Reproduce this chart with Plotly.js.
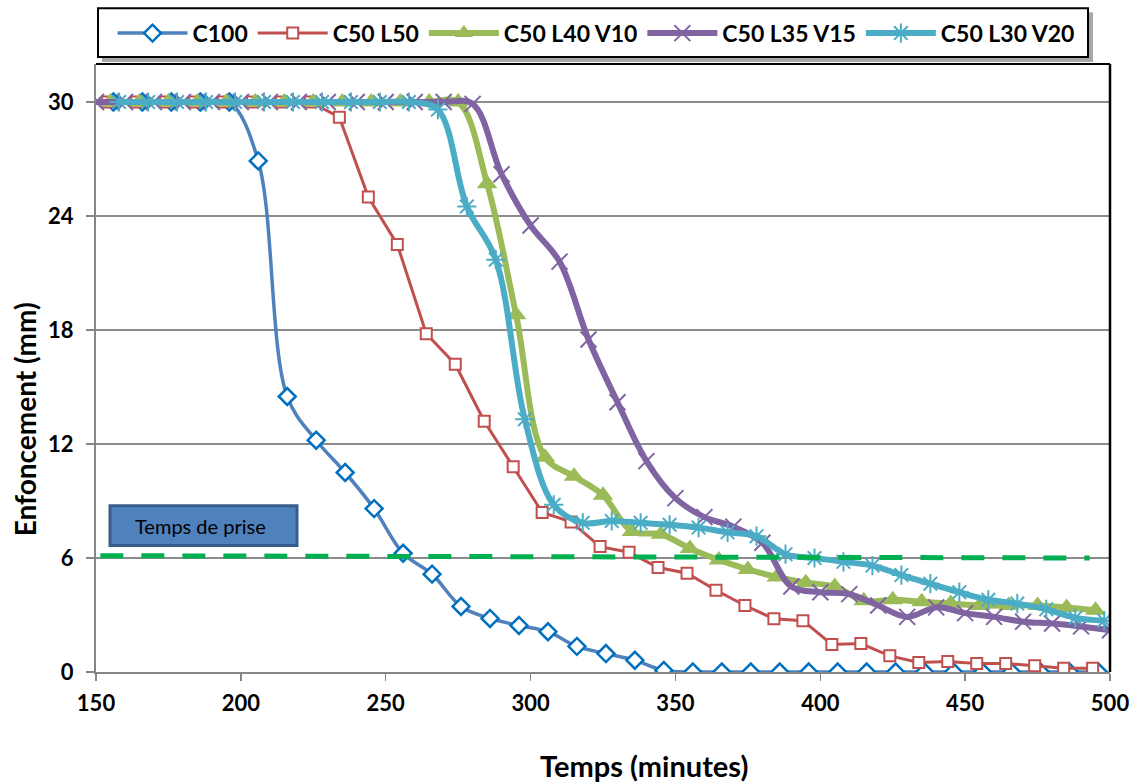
<!DOCTYPE html>
<html>
<head>
<meta charset="utf-8">
<script src="https://cdn.plot.ly/plotly-3.0.1.min.js"></script>
<style>html,body{margin:0;padding:0;background:#fff;}#chart{width:1136px;height:783px;}</style>
</head>
<body>
<div id="chart"></div>
<script>
// ---- data ----
const seriesNames = ["C100", "C50 L50", "C50 L40 V10", "C50 L35 V15", "C50 L30 V20"];

const timeC100 = [156,166,176,186,196,206,216,226,236,246,256,266,276,286,296,306,316,326,336,346,356,366,376,386,396,406,416,426,436,446,456,466,476,486,496];
const enfC100  = [30,30,30,30,30,26.9,14.5,12.2,10.5,8.6,6.25,5.15,3.45,2.82,2.45,2.12,1.35,0.97,0.62,0.08,0,0,0,0,0,0,0,0,0,0,0,0,0,0,0];

const timeL50 = [154,164,174,184,194,204,214,224,234,244,254,264,274,284,294,304,314,324,334,344,354,364,374,384,394,404,414,424,434,444,454,464,474,484,494];
const enfL50  = [30,30,30,30,30,30,30,30,29.2,25.0,22.5,17.8,16.2,13.2,10.8,8.4,7.9,6.6,6.3,5.5,5.2,4.3,3.5,2.8,2.7,1.45,1.5,0.85,0.5,0.55,0.45,0.45,0.33,0.2,0.2];

const timeV10 = [155,165,175,185,195,205,215,225,235,245,255,265,275,285,295,305,315,325,335,345,355,365,375,385,395,405,415,425,435,445,455,465,475,485,495];
const enfV10  = [30,30,30,30,30,30,30,30,30,30,30,30,30,25.7,18.8,11.3,10.3,9.3,7.4,7.25,6.5,5.9,5.4,5.0,4.7,4.5,3.75,3.8,3.7,3.6,3.5,3.5,3.5,3.4,3.25];

const timeV15 = [150,160,170,180,190,200,210,220,230,240,250,260,270,280,290,300,310,320,330,340,350,360,370,380,390,400,410,420,430,440,450,460,470,480,490,500];
const enfV15  = [30,30,30,30,30,30,30,30,30,30,30,30,30,29.9,26.2,23.5,21.6,17.5,14.2,11.1,9.15,8.15,7.65,6.8,4.5,4.2,4.1,3.5,2.9,3.4,3.1,2.9,2.65,2.55,2.4,2.2];

const timeV20 = [158,168,178,188,198,208,218,228,238,248,258,268,278,288,298,308,318,328,338,348,358,368,378,388,398,408,418,428,438,448,458,468,478,488,498];
const enfV20  = [30,30,30,30,30,30,30,30,30,30,30,29.6,24.5,21.7,13.3,8.8,7.85,7.95,7.85,7.75,7.6,7.35,7.15,6.2,6.0,5.8,5.6,5.1,4.65,4.2,3.8,3.6,3.3,2.85,2.7];

const settingLevel = [6.12, 6.0];      // "Temps de prise" reference line (mm)
const settingSpan  = [151.5, 493];     // its extent (minutes)
const xTicks = [150,200,250,300,350,400,450,500];
const yTicks = [0,6,12,18,24,30];

// ---- styles ----
const FONT = 'Lato, "Noto Sans", sans-serif';
const traces = [
  {x: timeC100, y: enfC100, name: seriesNames[0], type: 'scatter', mode: 'lines+markers',
   line: {color: '#4F81BD', width: 3.5, shape: 'spline', smoothing: 1},
   marker: {symbol: 'diamond', size: 13, color: '#ffffff', line: {color: '#0070C0', width: 2.5}}},
  {x: timeL50, y: enfL50, name: seriesNames[1], type: 'scatter', mode: 'lines+markers',
   line: {color: '#C0504D', width: 3},
   marker: {symbol: 'square', size: 11, color: '#ffffff', line: {color: '#C0504D', width: 2}}},
  {x: timeV10, y: enfV10, name: seriesNames[2], type: 'scatter', mode: 'lines+markers',
   line: {color: '#9BBB59', width: 6, shape: 'spline', smoothing: 1},
   marker: {symbol: 'triangle-up', size: 18, color: '#9BBB59'}},
  {x: timeV15, y: enfV15, name: seriesNames[3], type: 'scatter', mode: 'lines+markers',
   line: {color: '#8064A2', width: 6, shape: 'spline', smoothing: 1},
   marker: {symbol: 'x-thin-open', size: 16, color: '#8064A2', line: {color: '#8064A2', width: 2}}},
  {x: timeV20, y: enfV20, name: seriesNames[4], type: 'scatter', mode: 'lines+markers',
   line: {color: '#4BACC6', width: 6, shape: 'spline', smoothing: 1},
   marker: {symbol: 'asterisk-open', size: 16, color: '#4BACC6', line: {color: '#4BACC6', width: 2}}}
];

const W = 1136, H = 783, L = 96, R = 26, T = 61, B = 111;
const pw = W - L - R, ph = H - T - B;
const px2x = p => (p - L) / pw;       // pixel -> paper fraction
const py2y = p => (H - B - p) / ph;

const layout = {
  width: W, height: H,
  margin: {l: L, r: R, t: T, b: B, pad: 0},
  paper_bgcolor: '#ffffff', plot_bgcolor: '#ffffff',
  font: {family: FONT, color: '#000000'},
  showlegend: true,
  legend: {orientation: 'h', x: px2x(596), xanchor: 'center', y: py2y(30), yanchor: 'middle',
           bgcolor: 'rgba(0,0,0,0)', borderwidth: 0,
           font: {family: FONT, size: 23, color: '#000', weight: 'bold'}, itemwidth: 70},
  xaxis: {range: [150, 500], tickvals: xTicks, ticktext: xTicks.map(String),
          showgrid: false, zeroline: false, showline: true, linecolor: '#868686', linewidth: 2,
          ticks: 'outside', ticklen: 7, tickwidth: 1.5, tickcolor: '#868686', ticklabelstandoff: 4,
          tickfont: {family: FONT, size: 22, weight: 'bold'}},
  yaxis: {range: [0, 32], tickvals: yTicks, ticktext: yTicks.map(String),
          showgrid: true, gridcolor: '#8c8c8c', gridwidth: 1.5, zeroline: false,
          showline: true, linecolor: '#868686', linewidth: 2,
          ticks: 'outside', ticklen: 8, tickwidth: 1.5, tickcolor: '#868686', ticklabelstandoff: 8,
          tickfont: {family: FONT, size: 22, weight: 'bold'}},
  shapes: [
    // legend box shadow and box
    {type: 'rect', xref: 'paper', yref: 'paper', x0: px2x(102), x1: px2x(1093), y0: py2y(59), y1: py2y(9),
     fillcolor: '#a8a8a8', line: {width: 0}, layer: 'above'},
    {type: 'rect', xref: 'paper', yref: 'paper', x0: px2x(98), x1: px2x(1088), y0: py2y(54), y1: py2y(5),
     fillcolor: '#ffffff', line: {color: '#000000', width: 2}, layer: 'above'},
    // plot area top / right border
    {type: 'line', xref: 'paper', yref: 'paper', x0: 0, x1: 1, y0: 1, y1: 1, line: {color: '#000', width: 2}},
    {type: 'line', xref: 'paper', yref: 'paper', x0: 1, x1: 1, y0: 0, y1: 1, line: {color: '#000', width: 2.5}},
    // setting time reference line
    {type: 'line', xref: 'x', yref: 'y', x0: settingSpan[0], x1: settingSpan[1], y0: settingLevel[0], y1: settingLevel[1],
     line: {color: '#00B050', width: 5, dash: '23px,18px'}, layer: 'above'},
    // text box
    {type: 'rect', xref: 'paper', yref: 'paper', x0: px2x(110), x1: px2x(297), y0: py2y(545), y1: py2y(505),
     fillcolor: '#4F81BD', line: {color: '#385D8A', width: 3}, layer: 'above'}
  ],
  annotations: [
    {text: 'Temps de prise', xref: 'paper', yref: 'paper', x: px2x(133), y: py2y(525), xanchor: 'left', yanchor: 'middle',
     showarrow: false, font: {family: FONT, size: 20, color: '#000'}},
    {text: 'Temps (minutes)', xref: 'paper', yref: 'paper', x: px2x(644), y: py2y(766), xanchor: 'center', yanchor: 'middle',
     showarrow: false, font: {family: FONT, size: 29, color: '#000', weight: 'bold'}},
    {text: 'Enfoncement (mm)', xref: 'paper', yref: 'paper', x: px2x(25), y: py2y(418), xanchor: 'center', yanchor: 'middle',
     textangle: -90, showarrow: false, font: {family: FONT, size: 28, color: '#000', weight: 'bold'}}
  ]
};

Plotly.newPlot('chart', traces, layout, {displayModeBar: false, staticPlot: true});
</script>
</body>
</html>
